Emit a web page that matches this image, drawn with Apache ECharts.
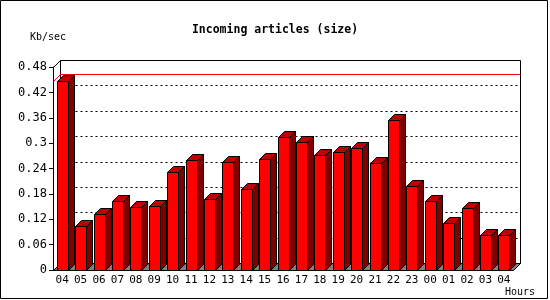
<!DOCTYPE html>
<html lang="en">
<head>
  <meta charset="utf-8" />
  <title>Incoming articles (size)</title>
  <script src="https://cdn.jsdelivr.net/npm/echarts@6.0.0/dist/echarts.min.js"></script>
  <style>
    html, body { margin: 0; padding: 0; background: #fff; }
  </style>
</head>
<body>
  <div id="main" style="width: 550px;height:300px;"></div>
  <script>
    var hours = ['04', '05', '06', '07', '08', '09', '10', '11', '12', '13', '14', '15', '16',
      '17', '18', '19', '20', '21', '22', '23', '00', '01', '02', '03', '04'];
    var sizeKbps = [0.447, 0.105, 0.132, 0.162, 0.148, 0.151, 0.231, 0.259, 0.167, 0.255, 0.191, 0.262, 0.315,
      0.303, 0.272, 0.279, 0.288, 0.253, 0.355, 0.198, 0.162, 0.111, 0.146, 0.082, 0.082];
    var yTicks = [0.06, 0.12, 0.18, 0.24, 0.3, 0.36, 0.42];

    var FONT = '"DejaVu Sans Mono", monospace';
    var DEPTH = 7;   // back panel offset
    var BAR_D = 6;   // bar depth
    var maxVal = Math.max.apply(null, sizeKbps);

    var chartDom = document.getElementById('main');
    var myChart = echarts.init(chartDom);

    // snap to pixel centre so 1px lines stay crisp
    function px(v) { return Math.round(v) + 0.5; }

    // back panel, dotted grid, floor and the max line
    function renderDecor(params, api) {
      var cs = params.coordSys;
      var x0 = px(cs.x), x1 = px(cs.x + cs.width);
      var yb = px(cs.y + cs.height), yt = px(cs.y);
      var d = DEPTH;
      var children = [];
      children.push({
        type: 'rect',
        shape: { x: x0 + d, y: yt - d, width: x1 - x0, height: yb - yt },
        style: { fill: '#fff', stroke: '#000', lineWidth: 1 }
      });
      children.push({
        type: 'line',
        shape: { x1: x0, y1: yt, x2: x0 + d, y2: yt - d },
        style: { stroke: '#000', lineWidth: 1 }
      });
      yTicks.forEach(function (v) {
        var y = px(api.coord([0, v])[1]) - d;
        children.push({
          type: 'line',
          shape: { x1: x0 + d, y1: y, x2: x1 + d, y2: y },
          style: { stroke: '#000', lineWidth: 1, lineDash: [2, 3] }
        });
      });
      var ym = px(api.coord([0, maxVal])[1]);
      children.push({
        type: 'polyline',
        shape: { points: [[x0, ym], [x0 + d, ym - d], [x1 + d, ym - d]] },
        style: { stroke: '#ff0000', lineWidth: 1, fill: null }
      });
      children.push({
        type: 'polygon',
        shape: { points: [[x0, yb], [x1, yb], [x1 + d, yb - d], [x0 + d, yb - d]] },
        style: { fill: '#808080', stroke: '#000', lineWidth: 1 }
      });
      return { type: 'group', children: children };
    }

    function renderBar(params, api) {
      var idx = api.value(0);
      var top = api.coord([idx, api.value(1)]);
      var base = api.coord([idx, 0]);
      var w = Math.round(api.size([1, 0])[0] * 0.6);
      var d = BAR_D;
      var xl = px(top[0] - w / 2), xr = xl + w;
      var yt = px(top[1]), yb = px(base[1]);
      var line = { stroke: '#000', lineWidth: 1 };
      return {
        type: 'group',
        children: [
          {
            type: 'polygon',
            shape: { points: [[xr, yt], [xr + d, yt - d], [xr + d, yb - d], [xr, yb]] },
            style: Object.assign({ fill: '#800000' }, line)
          },
          {
            type: 'polygon',
            shape: { points: [[xl, yt], [xl + d, yt - d], [xr + d, yt - d], [xr, yt]] },
            style: Object.assign({ fill: '#c00000' }, line)
          },
          {
            type: 'rect',
            shape: { x: xl, y: yt, width: w, height: yb - yt },
            style: Object.assign({ fill: '#ff0000' }, line)
          }
        ]
      };
    }

    var option = {
      animation: false,
      title: {
        text: 'Incoming articles (size)',
        left: 'center',
        top: 19,
        textStyle: { fontFamily: FONT, fontSize: 11.5, fontWeight: 'bold', color: '#000' }
      },
      grid: { left: 53, right: 37, top: 67, bottom: 30 },
      xAxis: {
        type: 'category',
        data: hours,
        boundaryGap: true,
        axisLine: { lineStyle: { color: '#000', width: 1 } },
        axisTick: { length: 4, lineStyle: { color: '#000' } },
        axisLabel: { interval: 0, margin: 5, color: '#000', fontFamily: FONT, fontSize: 11 },
        splitLine: { show: false }
      },
      yAxis: {
        type: 'value',
        min: 0,
        max: 0.48,
        interval: 0.06,
        axisLine: { show: true, lineStyle: { color: '#000', width: 1 } },
        axisTick: { show: true, length: 4, lineStyle: { color: '#000' } },
        axisLabel: { margin: 6, color: '#000', fontFamily: FONT, fontSize: 12 },
        splitLine: { show: false }
      },
      graphic: [
        {
          type: 'rect',
          shape: { x: 0.5, y: 0.5, width: 547, height: 298 },
          style: { fill: null, stroke: '#000', lineWidth: 1 }
        },
        {
          type: 'text', left: 30, top: 32,
          style: { text: 'Kb/sec', font: '10px ' + FONT, fill: '#000' }
        },
        {
          type: 'text', left: 505, top: 287,
          style: { text: 'Hours', font: '10px ' + FONT, fill: '#000' }
        }
      ],
      series: [
        {
          type: 'custom',
          renderItem: renderDecor,
          data: [[0, 0]],
          clip: false,
          silent: true,
          z: 1
        },
        {
          type: 'custom',
          renderItem: renderBar,
          data: sizeKbps.map(function (v, i) { return [i, v]; }),
          encode: { x: 0, y: 1 },
          clip: false,
          z: 2
        }
      ]
    };
    myChart.setOption(option);
  </script>
</body>
</html>
